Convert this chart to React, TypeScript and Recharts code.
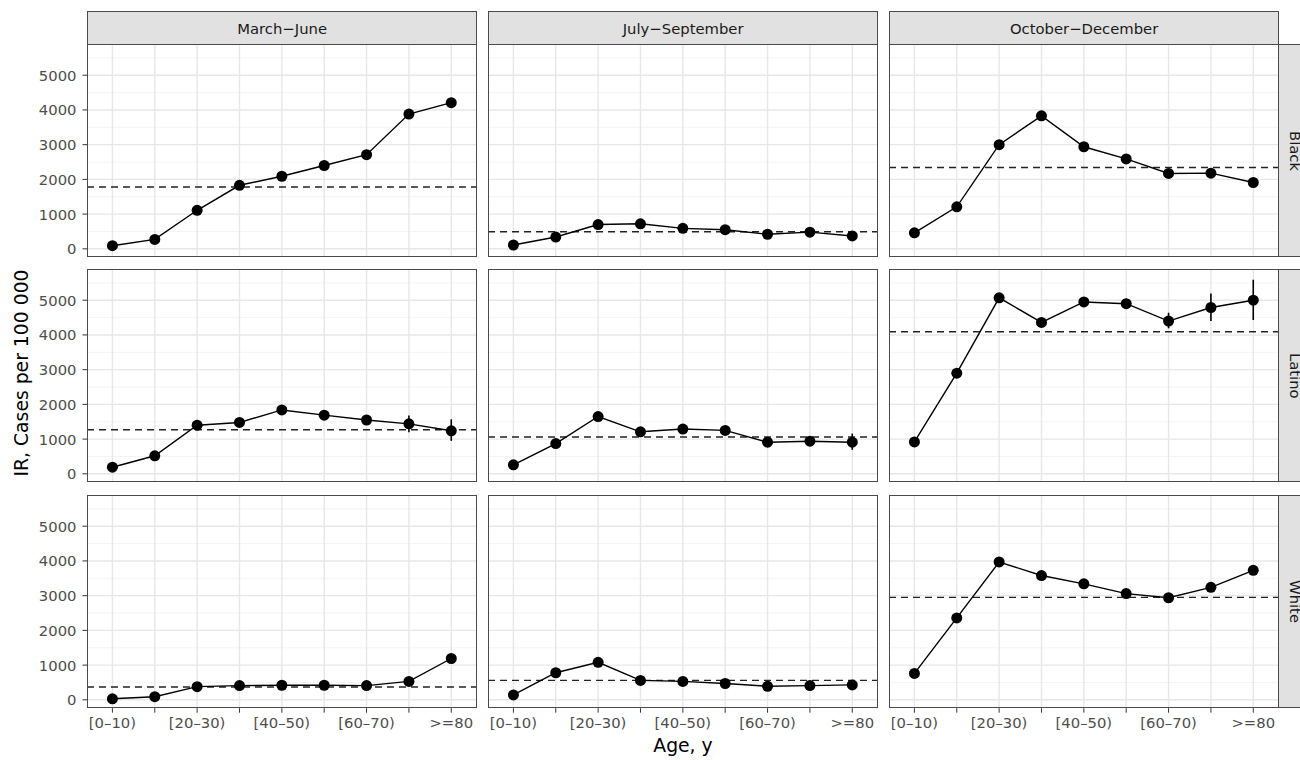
import React from 'react';
import { ComposedChart, Line, XAxis, YAxis, CartesianGrid, ReferenceLine, ErrorBar } from 'recharts';

// ---------- data ----------
const ageGroups = ['[0–10)', '[10–20)', '[20–30)', '[30–40)', '[40–50)', '[50–60)', '[60–70)', '[70–80)', '>=80'];
const ageTickLabels = ['[0–10)', '', '[20–30)', '', '[40–50)', '', '[60–70)', '', '>=80'];
const periods = ['March−June', 'July−September', 'October−December'];
const races = ['Black', 'Latino', 'White'];
const yTicks = [0, 1000, 2000, 3000, 4000, 5000];
const yMinorTicks = [500, 1500, 2500, 3500, 4500, 5500];
const yDomain = [-241, 5899];

const blackMarJun = [90, 270, 1110, 1830, 2090, 2400, 2710, 3880, 4210];
const blackJulSep = [110, 340, 700, 720, 590, 550, 420, 480, 370];
const blackOctDec = [460, 1210, 3000, 3830, 2940, 2590, 2170, 2180, 1910];
const latinoMarJun = [190, 520, 1400, 1480, 1840, 1690, 1550, 1440, 1240];
const latinoJulSep = [260, 870, 1650, 1210, 1290, 1250, 910, 940, 910];
const latinoOctDec = [920, 2900, 5070, 4360, 4950, 4900, 4400, 4790, 5000];
const whiteMarJun = [30, 90, 380, 410, 420, 420, 410, 530, 1190];
const whiteJulSep = [140, 780, 1080, 560, 530, 470, 390, 410, 430];
const whiteOctDec = [760, 2360, 3970, 3580, 3340, 3060, 2940, 3240, 3730];

const blackOverall = [1780, 490, 2340];
const latinoOverall = [1270, 1060, 4090];
const whiteOverall = [370, 560, 2950];

type CI = [number, number] | null;
const blackMarJunCI: CI[] = [null, null, null, null, null, null, null, [3790, 3960], [4090, 4340]];
const blackJulSepCI: CI[] = [null, null, null, null, null, null, null, null, null];
const blackOctDecCI: CI[] = [null, null, null, null, null, null, null, null, null];
const latinoMarJunCI: CI[] = [null, null, null, null, null, null, [1470, 1640], [1200, 1680], [950, 1570]];
const latinoJulSepCI: CI[] = [null, null, null, null, null, null, null, [850, 1040], [690, 1160]];
const latinoOctDecCI: CI[] = [null, null, null, null, [4860, 5050], [4760, 5040], [4190, 4640], [4400, 5190], [4430, 5590]];
const whiteMarJunCI: CI[] = [null, null, null, null, null, null, null, null, [1110, 1270]];
const whiteJulSepCI: CI[] = [null, null, null, null, null, null, null, null, null];
const whiteOctDecCI: CI[] = [null, null, null, null, null, null, null, null, [3640, 3830]];

const seriesGrid = [
  [blackMarJun, blackJulSep, blackOctDec],
  [latinoMarJun, latinoJulSep, latinoOctDec],
  [whiteMarJun, whiteJulSep, whiteOctDec],
];
const ciGrid = [
  [blackMarJunCI, blackJulSepCI, blackOctDecCI],
  [latinoMarJunCI, latinoJulSepCI, latinoOctDecCI],
  [whiteMarJunCI, whiteJulSepCI, whiteOctDecCI],
];
const overallGrid = [blackOverall, latinoOverall, whiteOverall];

// ---------- layout ----------
const COL_X = [87.3, 488.3, 889.3];
const ROW_Y = [44, 269.3, 495];
const PANEL_W = 389.7;
const PANEL_H = 213.2;
const Y_AXIS_W = 60;
const X_AXIS_H = 36;
const FONT = '"DejaVu Sans", sans-serif';
const TICK_FS = 14.8;
const xIdx = ageGroups.map((_, i) => i);

function YTick(props: any) {
  const { x, y, payload } = props;
  return (
    <text x={x} y={y} textAnchor="end" dominantBaseline="central" fill="#4d4d4d" fontFamily={FONT} fontSize={TICK_FS} style={{ fontSize: TICK_FS }}>
      {payload.value}
    </text>
  );
}

function XTick(props: any) {
  const { x, y, payload } = props;
  return (
    <text x={x} y={y} dy="0.78em" textAnchor="middle" fill="#4d4d4d" fontFamily={FONT} fontSize={TICK_FS} style={{ fontSize: TICK_FS }}>
      {ageTickLabels[payload.value]}
    </text>
  );
}

function Panel({ r, c }: { r: number; c: number }) {
  const vals = seriesGrid[r][c];
  const ci = ciGrid[r][c];
  const data = ageGroups.map((g, i) => ({
    x: i,
    age: g,
    v: vals[i],
    err: ci[i] ? [vals[i] - (ci[i] as number[])[0], (ci[i] as number[])[1] - vals[i]] : null,
  }));
  const showY = c === 0;
  const showX = r === 2;
  return (
    <div style={{ position: 'absolute', left: COL_X[c] - (showY ? Y_AXIS_W : 0), top: ROW_Y[r] }}>
      <ComposedChart
        width={PANEL_W + (showY ? Y_AXIS_W : 0)}
        height={PANEL_H + (showX ? X_AXIS_H : 0)}
        data={data}
        margin={{ top: 0, right: 0, bottom: 0, left: 0 }}
      >
        <CartesianGrid horizontalValues={yMinorTicks} vertical={false} stroke="#f1f1f1" strokeWidth={0.8} />
        <CartesianGrid horizontalValues={yTicks} verticalValues={xIdx} stroke="#e7e7e7" strokeWidth={1.4} />
        <XAxis
          type="number"
          dataKey="x"
          domain={[-0.6, 8.6]}
          ticks={xIdx}
          interval={0}
          allowDataOverflow
          hide={!showX}
          height={X_AXIS_H}
          tickSize={4.5}
          tickMargin={4}
          axisLine={false}
          tickLine={{ stroke: '#333333' }}
          tick={<XTick />}
        />
        <YAxis
          type="number"
          domain={yDomain}
          ticks={yTicks}
          interval={0}
          allowDataOverflow
          hide={!showY}
          width={Y_AXIS_W}
          tickSize={4.5}
          tickMargin={6}
          axisLine={false}
          tickLine={{ stroke: '#333333' }}
          tick={<YTick />}
        />
        <ReferenceLine y={overallGrid[r][c]} stroke="#222222" strokeDasharray="7 5" strokeWidth={1.4} />
        <Line
          dataKey="v"
          type="linear"
          stroke="#000000"
          strokeWidth={1.4}
          dot={{ r: 5.5, fill: '#000000', stroke: '#000000', strokeWidth: 0 }}
          activeDot={false}
          isAnimationActive={false}
        >
          <ErrorBar dataKey="err" direction="y" width={0} stroke="#000000" strokeWidth={1.6} />
        </Line>
      </ComposedChart>
    </div>
  );
}

export default function App() {
  const panels = [];
  for (let r = 0; r < 3; r++) for (let c = 0; c < 3; c++) panels.push(<Panel key={`${r}-${c}`} r={r} c={c} />);
  return (
    <div style={{ position: 'fixed', left: 0, top: 0, width: 1300, height: 760, overflow: 'hidden', background: '#ffffff', fontFamily: FONT }}>
      {panels}
      {/* panel borders */}
      {ROW_Y.map((y, r) =>
        COL_X.map((x, c) => (
          <div
            key={`b-${r}-${c}`}
            style={{ position: 'absolute', left: x, top: y, width: PANEL_W, height: PANEL_H, border: '1px solid #4a4a4a', boxSizing: 'border-box', pointerEvents: 'none' }}
          />
        ))
      )}
      {/* top strips */}
      {periods.map((p, c) => (
        <div
          key={`s-${c}`}
          style={{
            position: 'absolute', left: COL_X[c], top: 11, width: PANEL_W, height: 34, boxSizing: 'border-box',
            background: '#e1e1e1', border: '1px solid #4a4a4a', color: '#1a1a1a', fontSize: 14.8,
            display: 'flex', alignItems: 'center', justifyContent: 'center',
          }}
        >
          {p}
        </div>
      ))}
      {/* right strips */}
      {races.map((rc, r) => (
        <div
          key={`rs-${r}`}
          style={{
            position: 'absolute', left: COL_X[2] + PANEL_W - 1, top: ROW_Y[r], width: 34, height: PANEL_H, boxSizing: 'border-box',
            background: '#e1e1e1', border: '1px solid #4a4a4a', color: '#1a1a1a', fontSize: 14.8,
            display: 'flex', alignItems: 'center', justifyContent: 'center', writingMode: 'vertical-rl',
          }}
        >
          {rc}
        </div>
      ))}
      {/* axis titles */}
      <div
        style={{
          position: 'absolute', left: 22 - 160, top: 373 - 13, width: 320, height: 26, lineHeight: '26px',
          textAlign: 'center', transform: 'rotate(-90deg)', fontSize: 18.8, color: '#000000',
        }}
      >
        IR, Cases per 100 000
      </div>
      <div
        style={{
          position: 'absolute', left: 683 - 100, top: 733, width: 200, height: 26, lineHeight: '26px',
          textAlign: 'center', fontSize: 18.8, color: '#000000',
        }}
      >
        Age, y
      </div>
    </div>
  );
}
